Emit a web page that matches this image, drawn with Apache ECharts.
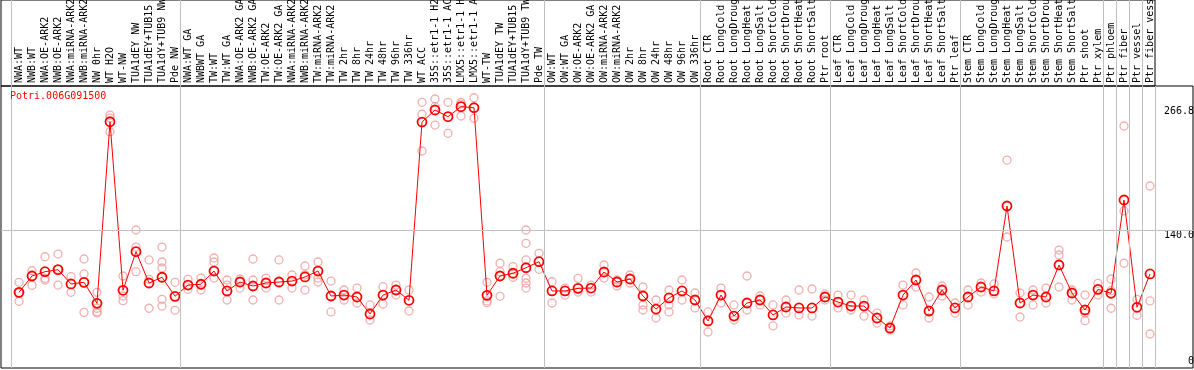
<!DOCTYPE html>
<html>
<head>
<meta charset="utf-8">
<script src="https://cdn.jsdelivr.net/npm/echarts@6/dist/echarts.min.js"></script>
<style>
html,body{margin:0;padding:0;background:#fff;}
#chart{width:1194px;height:370px;}
</style>
</head>
<body>
<div id="chart"></div>
<script>
const geneName = 'Potri.006G091500';

const categories = [
  'NWA:WT','NWB:WT','NWA:OE-ARK2','NWB:OE-ARK2','NWA:miRNA-ARK2','NWB:miRNA-ARK2','NW 0hr','WT H2O','WT-NW','TUA1dEY NW','TUA1dEY+TUB15 NW','TUA1dY+TUB9 NW','Pde NW',
  'NWA:WT GA','NWBWT GA','TW:WT','TW:WT GA','NWA:OE-ARK2 GA','NWB:OE-ARK2 GA','TW:OE-ARK2','TW:OE-ARK2 GA','NWA:miRNA-ARK2','NWB:miRNA-ARK2','TW:miRNA-ARK2','TW:miRNA-ARK2',
  'TW 2hr','TW 8hr','TW 24hr','TW 48hr','TW 96hr','TW 336hr','WT ACC','35S::etr1-1 H2O','35S::etr1-1 ACC','LMX5::etr1-1 H2O','LMX5::etr1-1 ACC','WT-TW','TUA1dEY TW','TUA1dEY+TUB15 TW','TUA1dY+TUB9 TW','Pde TW',
  'OW:WT','OW:WT GA','OW:OE-ARK2','OW:OE-ARK2 GA','OW:miRNA-ARK2','OW:miRNA-ARK2','OW 2hr','OW 8hr','OW 24hr','OW 48hr','OW 96hr','OW 336hr',
  'Root CTR','Root LongCold','Root LongDrought','Root LongHeat','Root LongSalt','Root ShortCold','Root ShortDrought','Root ShortHeat','Root ShortSalt','Ptr root',
  'Leaf CTR','Leaf LongCold','Leaf LongDrought','Leaf LongHeat','Leaf LongSalt','Leaf ShortCold','Leaf ShortDrought','Leaf ShortHeat','Leaf ShortSalt','Ptr leaf',
  'Stem CTR','Stem LongCold','Stem LongDrought','Stem LongHeat','Stem LongSalt','Stem ShortCold','Stem ShortDrought','Stem ShortHeat','Stem ShortSalt','Ptr shoot','Ptr xylem',
  'Ptr phloem','Ptr fiber','Ptr vessel','Ptr fiber vessel'
];

const groupSizes = [13, 28, 12, 10, 10, 11, 1, 1, 1, 1];

const meanValues = [
  75.8, 92.6, 97.0, 99.1, 84.4, 86.1, 64.5, 251.3, 77.9, 117.6, 85.4, 91.3, 71.7,
  83.3, 84.1, 97.7, 77.2, 86.4, 82.3, 85.4, 86.4, 87.4, 91.6, 97.7, 72.0,
  73.0, 71.0, 53.5, 73.0, 78.2, 67.6, 251.0, 263.4, 256.5, 266.8, 265.7, 72.7, 92.6, 95.4, 101.1, 107.3,
  77.2, 77.2, 79.9, 80.2, 96.7, 86.4, 89.5, 72.0, 58.6, 70.0, 77.2, 67.9,
  46.3, 73.0, 51.4, 64.8, 67.9, 52.5, 60.7, 59.7, 59.7, 71.0,
  65.8, 61.7, 61.7, 49.4, 39.1, 73.0, 88.5, 56.6, 78.2, 59.7,
  71.0, 81.3, 77.2, 164.6, 64.8, 73.0, 71.0, 103.9, 75.1, 57.6, 78.9,
  74.8, 170.8, 60.4, 94.7
];

const replicateValues = [
  [86.1, 66.6, 75.0], [98.0, 83.0], [112.4, 90.2, 88.5], [115.2, 99.5, 83.3], [91.9, 75.8], [110.1, 94.7, 55.2],
  [75.8, 59.4, 55.9, 54.5], [258.2, 255.1, 241.0], [92.6, 72.0, 67.2], [139.9, 122.4, 97.0], [109.1, 89.2, 59.4],
  [122.4, 107.0, 100.8, 68.6, 61.7], [86.1, 57.3],
  [89.2, 78.9], [90.5, 78.2], [111.1, 107.0, 90.5], [88.5, 83.3, 67.9], [89.5, 80.2], [110.1, 88.5, 67.9],
  [90.5, 80.2], [109.1, 67.9], [93.6, 80.2], [102.9, 93.6, 78.2], [107.0, 90.5, 86.4], [87.4, 55.6],
  [78.2, 67.9], [80.2, 64.8], [62.8, 47.3], [81.6, 63.8], [83.3, 73.0], [78.2, 56.6],
  [271.3, 259.0, 221.2], [274.7, 266.8, 247.9], [271.3, 239.4], [271.3, 269.5, 257.2], [276.0, 254.8],
  [86.1, 66.9, 65.1], [105.7, 97.0, 71.7], [102.2, 91.3], [139.9, 126.2, 109.1, 90.2, 85.4, 80.2], [115.9, 99.5],
  [86.7, 64.8], [80.2, 73.0], [90.2, 76.1], [83.3, 76.1], [103.9, 90.5], [88.5, 82.3], [93.6, 85.4],
  [81.3, 62.8, 57.6], [67.9, 49.4], [78.2, 62.8, 55.6], [88.5, 67.9], [75.1, 59.7],
  [55.6, 35.0], [80.2, 64.8], [62.8, 47.3], [92.6, 57.6], [72.0, 62.8], [62.8, 41.2], [67.9, 54.5],
  [78.2, 52.5], [79.2, 51.4], [74.1, 67.9],
  [73.0, 59.7], [73.0, 57.6], [67.9, 51.4], [54.5, 44.2], [41.2, 37.0], [83.3, 62.8], [95.7, 81.3],
  [71.0, 49.4], [82.3, 72.0], [64.8, 54.5],
  [78.2, 62.8], [85.4, 76.1], [84.4, 74.1], [211.9, 132.7], [75.1, 50.4], [78.2, 62.8], [80.2, 64.8],
  [119.3, 114.2, 81.3], [78.2, 67.9], [73.0, 54.5, 46.6], [85.1, 73.0],
  [89.5, 77.5, 59.4], [246.9, 159.5, 105.7], [68.6, 52.2], [185.2, 66.9, 32.9]
];

const yTickValues = [0, 140, 266.8];
const yTickLabels = ['0', '140.0', '266.8'];

// ---------- build options ----------
const FONT = 'DejaVu Sans Mono';
const idx = categories.map((_, i) => i);
const lineData = meanValues.map((v, i) => [i, v]);
const scatterData = [];
replicateValues.forEach((arr, i) => arr.forEach(v => scatterData.push([i, v])));

const boundaries = [-0.5];
let acc = 0;
groupSizes.forEach(n => { acc += n; boundaries.push(acc - 0.5); });
const sepShift = -0.1;
const sepMain = boundaries.map(b => ({ xAxis: b + sepShift }));
const sepTop = boundaries.slice(0, -1).map(b => ({ xAxis: b + sepShift }));

// x scale: step 13px, first category at x=19, main frame x 1..1193, label frame x 1..1155
const xMin = (1 - 19) / 13;
const xMaxMain = (1193 - 19) / 13;
const xMaxTop = (1155 - 19) / 13;
// y scale: 0 at y=366, 0.972 px per unit, frame y 86..368
const yMax = (366 - 86) / 0.972;
const yMin = (366 - 368) / 0.972;

const labelMap = {};
yTickValues.forEach((v, k) => labelMap[v] = yTickLabels[k]);

const option = {
  animation: false,
  backgroundColor: '#fff',
  title: {
    text: geneName, left: 10, top: 91, padding: 0,
    textStyle: { color: '#ff0000', fontFamily: FONT, fontSize: 10, fontWeight: 'normal' }
  },
  grid: [
    { left: 1, top: 86, width: 1192, height: 282, show: true, borderColor: '#000', borderWidth: 1,
      backgroundColor: 'transparent', outerBoundsMode: 'none', containLabel: false },
    { left: 1, top: 0, width: 1154, height: 86, show: true, borderColor: '#000', borderWidth: 1,
      backgroundColor: 'transparent', outerBoundsMode: 'none', containLabel: false }
  ],
  xAxis: [
    {
      gridIndex: 0, type: 'value', position: 'top', min: xMin, max: xMaxMain,
      axisLine: { show: false }, axisTick: { show: false }, splitLine: { show: false },
      axisLabel: {
        customValues: idx, rotate: 90, margin: 3, hideOverlap: false,
        fontFamily: FONT, fontSize: 10, color: '#000',
        formatter: v => categories[Math.round(v)] || ''
      }
    },
    { gridIndex: 1, type: 'value', min: xMin, max: xMaxTop, show: false }
  ],
  yAxis: [
    {
      gridIndex: 0, type: 'value', position: 'right', min: yMin, max: yMax,
      axisLine: { show: false }, axisTick: { show: false }, splitLine: { show: false },
      axisLabel: {
        inside: true, margin: -1, customValues: [yTickValues[1], yTickValues[2]],
        verticalAlign: 'top', fontFamily: FONT, fontSize: 10, color: '#000',
        formatter: v => labelMap[v]
      }
    },
    {
      gridIndex: 0, type: 'value', position: 'right', min: yMin, max: yMax,
      axisLine: { show: false }, axisTick: { show: false }, splitLine: { show: false },
      axisLabel: {
        inside: true, margin: -1, customValues: [yTickValues[0]],
        verticalAlign: 'bottom', fontFamily: FONT, fontSize: 10, color: '#000',
        formatter: v => labelMap[v]
      }
    },
    { gridIndex: 1, type: 'value', min: 0, max: 1, show: false }
  ],
  series: [
    {
      type: 'line', xAxisIndex: 1, yAxisIndex: 2, data: [], silent: true,
      markLine: {
        silent: true, symbol: 'none', label: { show: false },
        lineStyle: { color: '#c0c0c0', width: 1, type: 'solid' },
        data: sepTop
      }
    },
    {
      type: 'line', xAxisIndex: 0, yAxisIndex: 0, data: [], silent: true, z: 1,
      markLine: {
        silent: true, symbol: 'none', label: { show: false },
        lineStyle: { color: '#c0c0c0', width: 1, type: 'solid' },
        data: sepMain.concat([{ yAxis: yTickValues[1] }])
      }
    },
    {
      type: 'scatter', xAxisIndex: 0, yAxisIndex: 0, data: scatterData, z: 2,
      symbol: 'circle', symbolSize: 8,
      itemStyle: { color: 'rgba(0,0,0,0)', borderColor: '#ef9a9a', borderWidth: 1.3 }
    },
    {
      type: 'line', xAxisIndex: 0, yAxisIndex: 0, data: lineData, z: 3,
      symbol: 'circle', symbolSize: 9, showAllSymbol: true,
      lineStyle: { color: '#ff0000', width: 1 },
      itemStyle: { color: 'rgba(0,0,0,0)', borderColor: '#ff0000', borderWidth: 1.8 }
    }
  ]
};

const chart = echarts.init(document.getElementById('chart'), null, { renderer: 'canvas' });
chart.setOption(option);
</script>
</body>
</html>
